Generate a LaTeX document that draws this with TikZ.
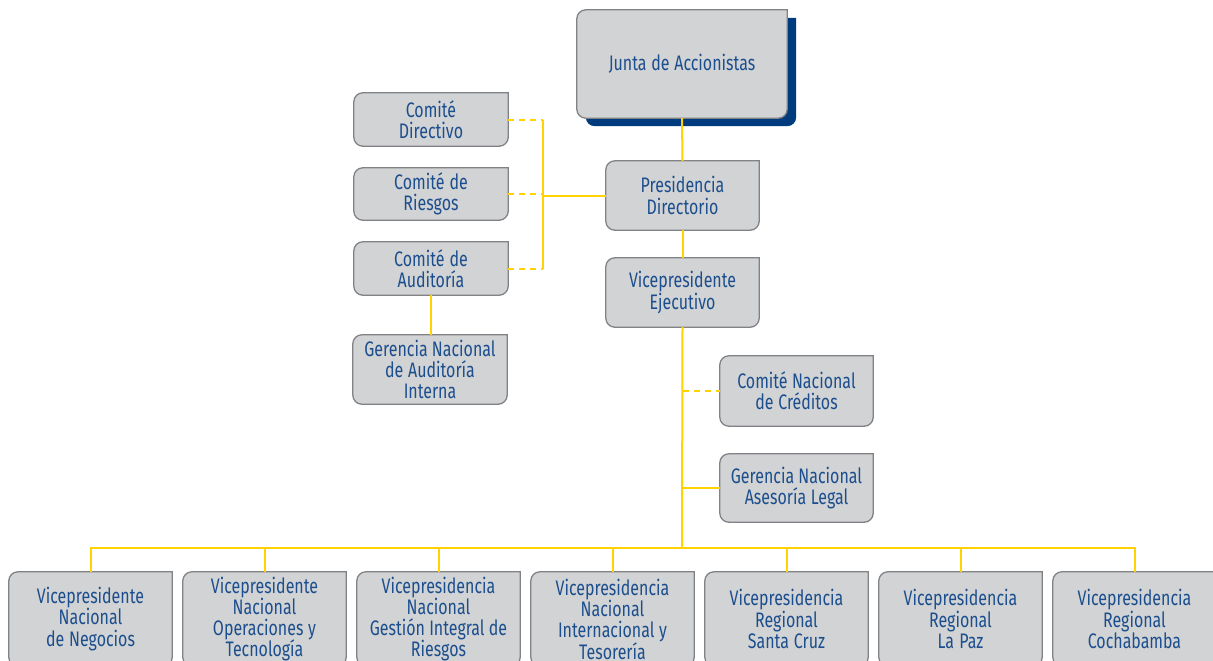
\documentclass[tikz,border=0pt]{standalone}
\usepackage{fontspec}
\setmainfont{Fira Sans}[FakeStretch=0.76]
\usetikzlibrary{backgrounds}
\definecolor{boxfill}{HTML}{D1D3D4}
\definecolor{boxedge}{HTML}{808285}
\definecolor{txtblue}{HTML}{1C4E8E}
\definecolor{linkyellow}{HTML}{FFD200}
\definecolor{shadowblue}{HTML}{003B7D}
\newcommand\tightspaces{\spaceskip=4pt plus 1pt minus 1pt\relax}
\tikzset{
  org/.style 2 args={inner sep=0pt, minimum width=#1, minimum height=#2,
    text width=#1, align=center, text=txtblue,
    font=\fontsize{21}{21.3}\selectfont,
    execute at begin node=\tightspaces},
  link/.style={draw=linkyellow, line width=2pt},
  duelink/.style={link, dash pattern=on 6pt off 5pt},
  frame/.style={fill=boxfill, draw=boxedge, line width=1.3pt},
}
% box outline: rounded corners except the top right one
\newcommand\roundframe[2]{%
  \path[#2] (#1.north east) -- ([yshift=9pt]#1.south east)
    arc[start angle=0,end angle=-90,radius=9pt] -- ([xshift=9pt]#1.south west)
    arc[start angle=270,end angle=180,radius=9pt] -- ([yshift=-9pt]#1.north west)
    arc[start angle=180,end angle=90,radius=9pt] -- cycle;}
\begin{document}
\begin{tikzpicture}[x=1pt,y=-1pt]
\useasboundingbox (0,0) rectangle (1213,661);

% board and committees
\node[org={210pt}{108pt}] (junta) at (682,64) {Junta de Accionistas};
\node[org={153pt}{69pt}] (pres) at (682.5,195.5) {Presidencia\\Directorio};
\node[org={153pt}{69pt}] (vpe) at (682.5,292.5) {Vicepresidente\\Ejecutivo};
\node[org={154pt}{53pt}] (cdir) at (431,119.5) {Comité\\Directivo};
\node[org={154pt}{52pt}] (crie) at (431,194) {Comité de\\Riesgos};
\node[org={154pt}{53pt}] (caud) at (431,268.5) {Comité de\\Auditoría};
\node[org={154pt}{69pt}] (gnai) at (430,369.5) {Gerencia Nacional\\de Auditoría\\Interna};
\node[org={153pt}{70pt}] (cnc) at (796.5,391) {Comité Nacional\\de Créditos};
\node[org={153pt}{68pt}] (gal) at (796.5,488) {Gerencia Nacional\\Asesoría Legal};

% vice presidencies
\node[org={163pt}{94pt}] (b1) at (90.5,619) {Vicepresidente\\Nacional\\de Negocios};
\node[org={163pt}{94pt}] (b2) at (264.5,619) {Vicepresidente\\Nacional\\Operaciones y\\Tecnología};
\node[org={163pt}{94pt}] (b3) at (438.5,619) {Vicepresidencia\\Nacional\\Gestión Integral de\\Riesgos};
\node[org={163pt}{94pt}] (b4) at (612.5,619) {Vicepresidencia\\Nacional\\Internacional y\\Tesorería};
\node[org={163pt}{94pt}] (b5) at (786.5,619) {Vicepresidencia\\Regional\\Santa Cruz};
\node[org={163pt}{94pt}] (b6) at (960.5,619) {Vicepresidencia\\Regional\\La Paz};
\node[org={163pt}{94pt}] (b7) at (1134.5,619) {Vicepresidencia\\Regional\\Cochabamba};

\begin{scope}[on background layer]
  \begin{scope}[transform canvas={xshift=9pt,yshift=-8pt}]
    \roundframe{junta}{fill=shadowblue}
  \end{scope}
  \foreach \n in {junta,pres,vpe,cdir,crie,caud,gnai,cnc,gal,b1,b2,b3,b4,b5,b6,b7}
    {\roundframe{\n}{frame}}
\end{scope}

% connectors
\coordinate (bus) at (682,548);
\coordinate (cj) at (543,195);
\draw[link] (junta.south) -- (pres.north);
\draw[link] (pres.south) -- (vpe.north);
\draw[link] (vpe.south) -- (bus);
\draw[duelink] (vpe.south |- cnc.west) -- (cnc.west);
\draw[link] (vpe.south |- gal.west) -- (gal.west);
\draw[link] (b1.north) -- (b1.north |- bus) -- (b7.north |- bus) -- (b7.north);
\foreach \n in {b2,b3,b4,b5,b6}
  {\draw[link] (\n.north) -- (\n.north |- bus);}
\draw[link] (pres.west) -- (pres.west -| cj);
\draw[link] (cdir.east -| cj) -- (caud.east -| cj);
\draw[duelink] (cdir.east) -- (cdir.east -| cj);
\draw[duelink] (crie.east) -- (crie.east -| cj);
\draw[duelink] (caud.east) -- (caud.east -| cj);
\draw[link] (caud.south) -- (caud.south |- gnai.north);
\end{tikzpicture}
\end{document}
